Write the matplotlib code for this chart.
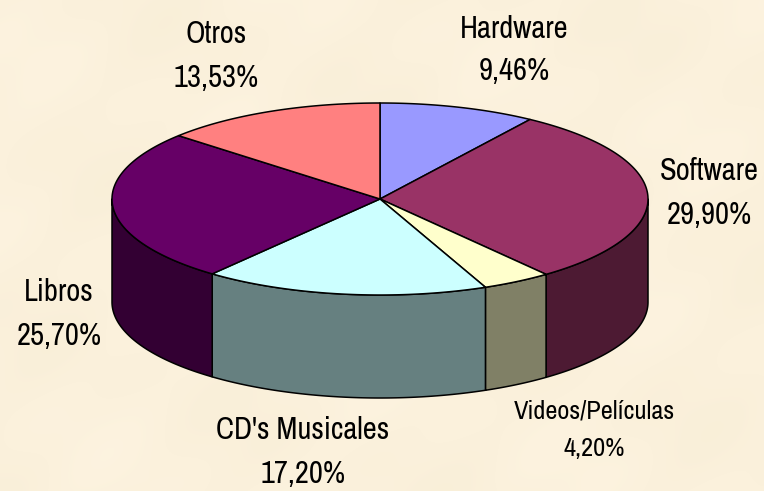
import matplotlib
matplotlib.use('Agg')
import matplotlib.pyplot as plt
import numpy as np

labels = ['Hardware', 'Software', 'Videos/Películas', "CD's Musicales", 'Libros', 'Otros']
values = [9.46, 29.90, 4.20, 17.20, 25.70, 13.53]
top_colors = ['#9999FF', '#993366', '#FFFFCC', '#CCFFFF', '#660066', '#FF8080']
side_colors = ['#4D4D80', '#4D1A33', '#808066', '#668080', '#330033', '#804040']

# label centres, sizes and line spacing
label_pos = [(514, 50), (709, 193), (594, 430), (303, 452), (59, 314), (216, 56)]
label_size = [22, 22, 19, 22, 22, 22]
label_spacing = [1.58, 1.72, 1.75, 1.68, 1.68, 1.68]

CX, CY = 380, 199
RX, RY = 268, 96
DEPTH = 103

plt.rcParams['font.family'] = ['Archivo Narrow', 'Liberation Sans', 'DejaVu Sans']

fig = plt.figure(figsize=(7.64, 4.91), dpi=100)
ax = fig.add_axes([0, 0, 1, 1])
ax.set_xlim(0, 764)
ax.set_ylim(491, 0)
ax.axis('off')

# parchment background, faint blotches from overlaid waves
yy, xx = np.mgrid[0:491, 0:764]
blotch = (np.sin(xx / 37.0 + yy / 91.0) + np.sin(yy / 29.0 - xx / 71.0)
          + np.sin((xx + yy) / 17.0) * 0.5) / 2.5
base = np.array([251, 241, 220]) / 255.0
tex = base[None, None, :] + blotch[:, :, None] * np.array([0.007, 0.008, 0.013])
ax.imshow(np.clip(tex, 0, 1), extent=(0, 764, 491, 0), aspect='auto', zorder=0)


def rim(a0, a1, n=200):
    # angles run clockwise from the top of the ellipse
    t = np.linspace(a0, a1, n)
    return CX + RX * np.sin(t), CY - RY * np.cos(t)


fracs = np.array(values) / sum(values)
edges = np.concatenate([[0], np.cumsum(fracs)]) * 2 * np.pi

# walls, only the half facing the viewer
for i in range(len(values)):
    a0 = max(edges[i], np.pi / 2)
    a1 = min(edges[i + 1], 3 * np.pi / 2)
    if a1 <= a0:
        continue
    x, y = rim(a0, a1)
    wx = np.concatenate([x, x[::-1]])
    wy = np.concatenate([y, y[::-1] + DEPTH])
    ax.fill(wx, wy, facecolor=side_colors[i], edgecolor='black', lw=1.1, zorder=2,
            joinstyle='round')

# top of the pie
for i in range(len(values)):
    x, y = rim(edges[i], edges[i + 1])
    ax.fill(np.concatenate([[CX], x]), np.concatenate([[CY], y]),
            facecolor=top_colors[i], edgecolor='black', lw=1.1, zorder=3,
            joinstyle='round')

for name, v, (lx, ly), fs, sp in zip(labels, values, label_pos, label_size, label_spacing):
    txt = name + '\n' + f'{v:.2f}'.replace('.', ',') + '%'
    ax.text(lx, ly, txt, ha='center', va='center', fontsize=fs, color='black',
            linespacing=sp, zorder=4)

fig.savefig('out.png', dpi=100)
